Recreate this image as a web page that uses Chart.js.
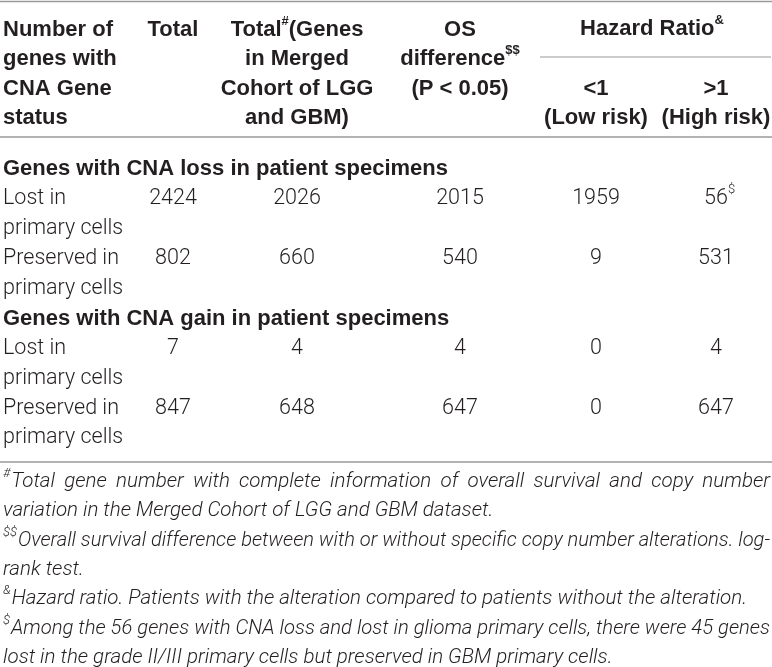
<!DOCTYPE html>
<html>
<head>
<meta charset="utf-8">
<script src="https://cdn.jsdelivr.net/npm/chart.js@4.4.1/dist/chart.umd.min.js"></script>
<style>
  html, body { margin: 0; padding: 0; background: #fff; }
  #wrap { width: 772px; height: 667px; }
</style>
</head>
<body>
<div id="wrap"><canvas id="cnaTable" width="772" height="667"></canvas></div>
<script>
// table content
const sectionTitles = ['Genes with CNA loss in patient specimens', 'Genes with CNA gain in patient specimens'];
const rowLabels = [['Lost in', 'primary cells'], ['Preserved in', 'primary cells'], ['Lost in', 'primary cells'], ['Preserved in', 'primary cells']];
const rowSection = [0, 0, 1, 1];

const totalAll = [2424, 802, 7, 847];
const totalMerged = [2026, 660, 4, 648];
const osDifference = [2015, 540, 4, 647];
const hrLowRisk = [1959, 9, 0, 0];
const hrHighRisk = [56, 531, 4, 647];
const hrHighMarks = ['$', '', '', ''];

const headStatus = ['Number of', 'genes with', 'CNA Gene', 'status'];
const headTotal = ['Total'];
const headMerged = [[['Total'], ['#', true], ['(Genes']], 'in Merged', 'Cohort of LGG', 'and GBM)'];
const headOS = ['OS', [['difference'], ['$$', true]], '(P < 0.05)'];
const headHazard = [['Hazard Ratio'], ['&', true]];
const headLow = ['<1', '(Low risk)'];
const headHigh = ['>1', '(High risk)'];

const footnotes = [
  { mark: '#', lines: ['Total gene number with complete information of overall survival and copy number',
                       'variation in the Merged Cohort of LGG and GBM dataset.'] },
  { mark: '$$', lines: ['Overall survival difference between with or without specific copy number alterations. log-',
                        'rank test.'] },
  { mark: '&', lines: ['Hazard ratio. Patients with the alteration compared to patients without the alteration.'] },
  { mark: '$', lines: ['Among the 56 genes with CNA loss and lost in glioma primary cells, there were 45 genes',
                       'lost in the grade II/III primary cells but preserved in GBM primary cells.'] }
];

// layout (pixel units of the x / y scales)
const colX = [3, 173, 297, 460, 596, 716];
const headLineY = [30, 59, 89, 118];
const bodyTop = 169, bodyStep = 29.9;
const footTop = 482, footStep = 29.3;
const rules = { top: 1.5, hazard: 57, head: 137, bottom: 462 };
const hazardRule = [540, 771];
const hazardCenter = 652;
const rightEdge = 770;
const footRefWidth = 743;

const ink = '#231f20';
const ruleColor = '#9a9a9a';
const boldFont = 'bold 22px "Liberation Sans", Arial, sans-serif';
const bodyFont = '300 21.5px Roboto, "Liberation Sans", sans-serif';
const footFont = 'italic 300 20px Roboto, "Liberation Sans", sans-serif';

// body line index of each data row (first line of its label)
const bodyLineOfRow = [];
let line = 0;
rowLabels.forEach((lbl, i) => {
  if (i === 0 || rowSection[i] !== rowSection[i - 1]) line++;
  bodyLineOfRow.push(line);
  line += lbl.length;
});
const sectionLine = [0, bodyLineOfRow[2] - 1];
const bodyY = n => bodyTop + n * bodyStep;

const valueColumns = [totalAll, totalMerged, osDifference, hrLowRisk, hrHighRisk];

const datasets = valueColumns.map((vals, c) => ({
  label: 'col' + (c + 1),
  data: vals.map((v, i) => ({ x: colX[c + 1], y: bodyY(bodyLineOfRow[i]), v: v })),
  pointRadius: 0,
  pointHoverRadius: 0,
  showLine: false
}));

function drawRich(ctx, segs, x, y, align, font, supFont) {
  const parts = segs.map(s => {
    ctx.font = s[1] ? supFont : font;
    return { t: s[0], sup: !!s[1], w: ctx.measureText(s[0]).width };
  });
  const total = parts.reduce((a, p) => a + p.w, 0);
  let cx = align === 'center' ? x - total / 2 : x;
  ctx.textAlign = 'left';
  parts.forEach(p => {
    ctx.font = p.sup ? supFont : font;
    ctx.fillText(p.t, cx, p.sup ? y - 9 : y);
    cx += p.w;
  });
}

function asSegs(item) {
  return typeof item === 'string' ? [[item]] : item;
}

const tablePlugin = {
  id: 'tablePlugin',
  afterDraw(chart) {
    const ctx = chart.ctx;
    const xs = chart.scales.x, ys = chart.scales.y;
    const px = v => xs.getPixelForValue(v);
    const py = v => ys.getPixelForValue(v);
    ctx.save();
    ctx.fillStyle = ink;
    ctx.textBaseline = 'middle';

    // rules
    ctx.strokeStyle = ruleColor;
    ctx.lineWidth = 1.6;
    [rules.top, rules.head, rules.bottom].forEach(r => {
      ctx.beginPath();
      ctx.moveTo(px(0), py(r));
      ctx.lineTo(px(772), py(r));
      ctx.stroke();
    });
    ctx.lineWidth = 1.2;
    ctx.beginPath();
    ctx.moveTo(px(hazardRule[0]), py(rules.hazard));
    ctx.lineTo(px(hazardRule[1]), py(rules.hazard));
    ctx.stroke();

    // header
    const supB = 'bold 13px "Liberation Sans", Arial, sans-serif';
    headStatus.forEach((t, i) => drawRich(ctx, asSegs(t), px(colX[0]), py(headLineY[i]), 'left', boldFont, supB));
    headTotal.forEach((t, i) => drawRich(ctx, asSegs(t), px(colX[1]), py(headLineY[i]), 'center', boldFont, supB));
    headMerged.forEach((t, i) => drawRich(ctx, asSegs(t), px(colX[2]), py(headLineY[i]), 'center', boldFont, supB));
    headOS.forEach((t, i) => drawRich(ctx, asSegs(t), px(colX[3]), py(headLineY[i]), 'center', boldFont, supB));
    drawRich(ctx, headHazard, px(hazardCenter), py(headLineY[0] - 1), 'center', boldFont, supB);
    headLow.forEach((t, i) => drawRich(ctx, asSegs(t), px(colX[4]), py(headLineY[i + 2]), 'center', boldFont, supB));
    headHigh.forEach((t, i) => drawRich(ctx, asSegs(t), px(colX[5]), py(headLineY[i + 2]), 'center', boldFont, supB));

    // section titles and row labels
    sectionTitles.forEach((t, s) => drawRich(ctx, [[t]], px(colX[0]), py(bodyY(sectionLine[s])), 'left', boldFont, supB));
    rowLabels.forEach((lbl, i) => {
      lbl.forEach((t, k) => drawRich(ctx, [[t]], px(colX[0]), py(bodyY(bodyLineOfRow[i] + k)), 'left', bodyFont, bodyFont));
    });

    // cell values, placed at each dataset point
    const supL = '300 13px Roboto, "Liberation Sans", sans-serif';
    chart.data.datasets.forEach((ds, d) => {
      const meta = chart.getDatasetMeta(d);
      meta.data.forEach((pt, i) => {
        const segs = [[String(ds.data[i].v)]];
        if (d === 4 && hrHighMarks[i]) segs.push([hrHighMarks[i], true]);
        const w0 = (ctx.font = bodyFont, ctx.measureText(String(ds.data[i].v)).width);
        // centre on the number itself, mark hangs to the right
        drawRich(ctx, segs, pt.x - w0 / 2, pt.y, 'left', bodyFont, supL);
      });
    });

    // footnotes
    const supF = 'italic 300 13px Roboto, "Liberation Sans", sans-serif';
    const refText = footnotes[2].lines[0];
    ctx.font = supF;
    const refMark = ctx.measureText(footnotes[2].mark).width;
    ctx.font = footFont;
    const squeeze = (footRefWidth - refMark) / ctx.measureText(refText).width;

    let fl = 0;
    footnotes.forEach(fn => {
      fn.lines.forEach((txt, k) => {
        const y = py(footTop + fl * footStep);
        let x = px(colX[0]);
        if (k === 0) {
          ctx.font = supF;
          ctx.textAlign = 'left';
          ctx.fillText(fn.mark, x, y - 8);
          x += ctx.measureText(fn.mark).width + 1;
        }
        ctx.font = footFont;
        const words = txt.split(' ');
        const ws = words.map(w => ctx.measureText(w).width);
        const space = ctx.measureText(' ').width;
        const justify = k < fn.lines.length - 1;
        const avail = px(rightEdge) - x;
        let sq = squeeze;
        const natural = (ws.reduce((a, b) => a + b, 0) + space * (words.length - 1)) * sq;
        let gap = space * sq;
        if (justify) {
          if (natural > avail) {
            sq = sq * avail / natural;
            gap = space * sq;
          } else {
            gap = (avail - ws.reduce((a, b) => a + b, 0) * sq) / (words.length - 1);
          }
        } else if (natural > avail) {
          sq = sq * avail / natural;
          gap = space * sq;
        }
        words.forEach((w, j) => {
          ctx.save();
          ctx.translate(x, y);
          ctx.scale(sq, 1);
          ctx.fillText(w, 0, 0);
          ctx.restore();
          x += ws[j] * sq + gap;
        });
        fl++;
      });
    });
    ctx.restore();
  }
};

document.fonts.load(bodyFont).then(() => document.fonts.load(footFont)).then(() => document.fonts.load(boldFont)).finally(() => {
  new Chart(document.getElementById('cnaTable'), {
    type: 'scatter',
    data: { datasets: datasets },
    options: {
      responsive: false,
      animation: false,
      events: [],
      layout: { padding: 0 },
      plugins: { legend: { display: false }, tooltip: { enabled: false } },
      scales: {
        x: { type: 'linear', min: 0, max: 772, display: false },
        y: { type: 'linear', min: 0, max: 667, reverse: true, display: false }
      }
    },
    plugins: [tablePlugin]
  });
});
</script>
</body>
</html>
